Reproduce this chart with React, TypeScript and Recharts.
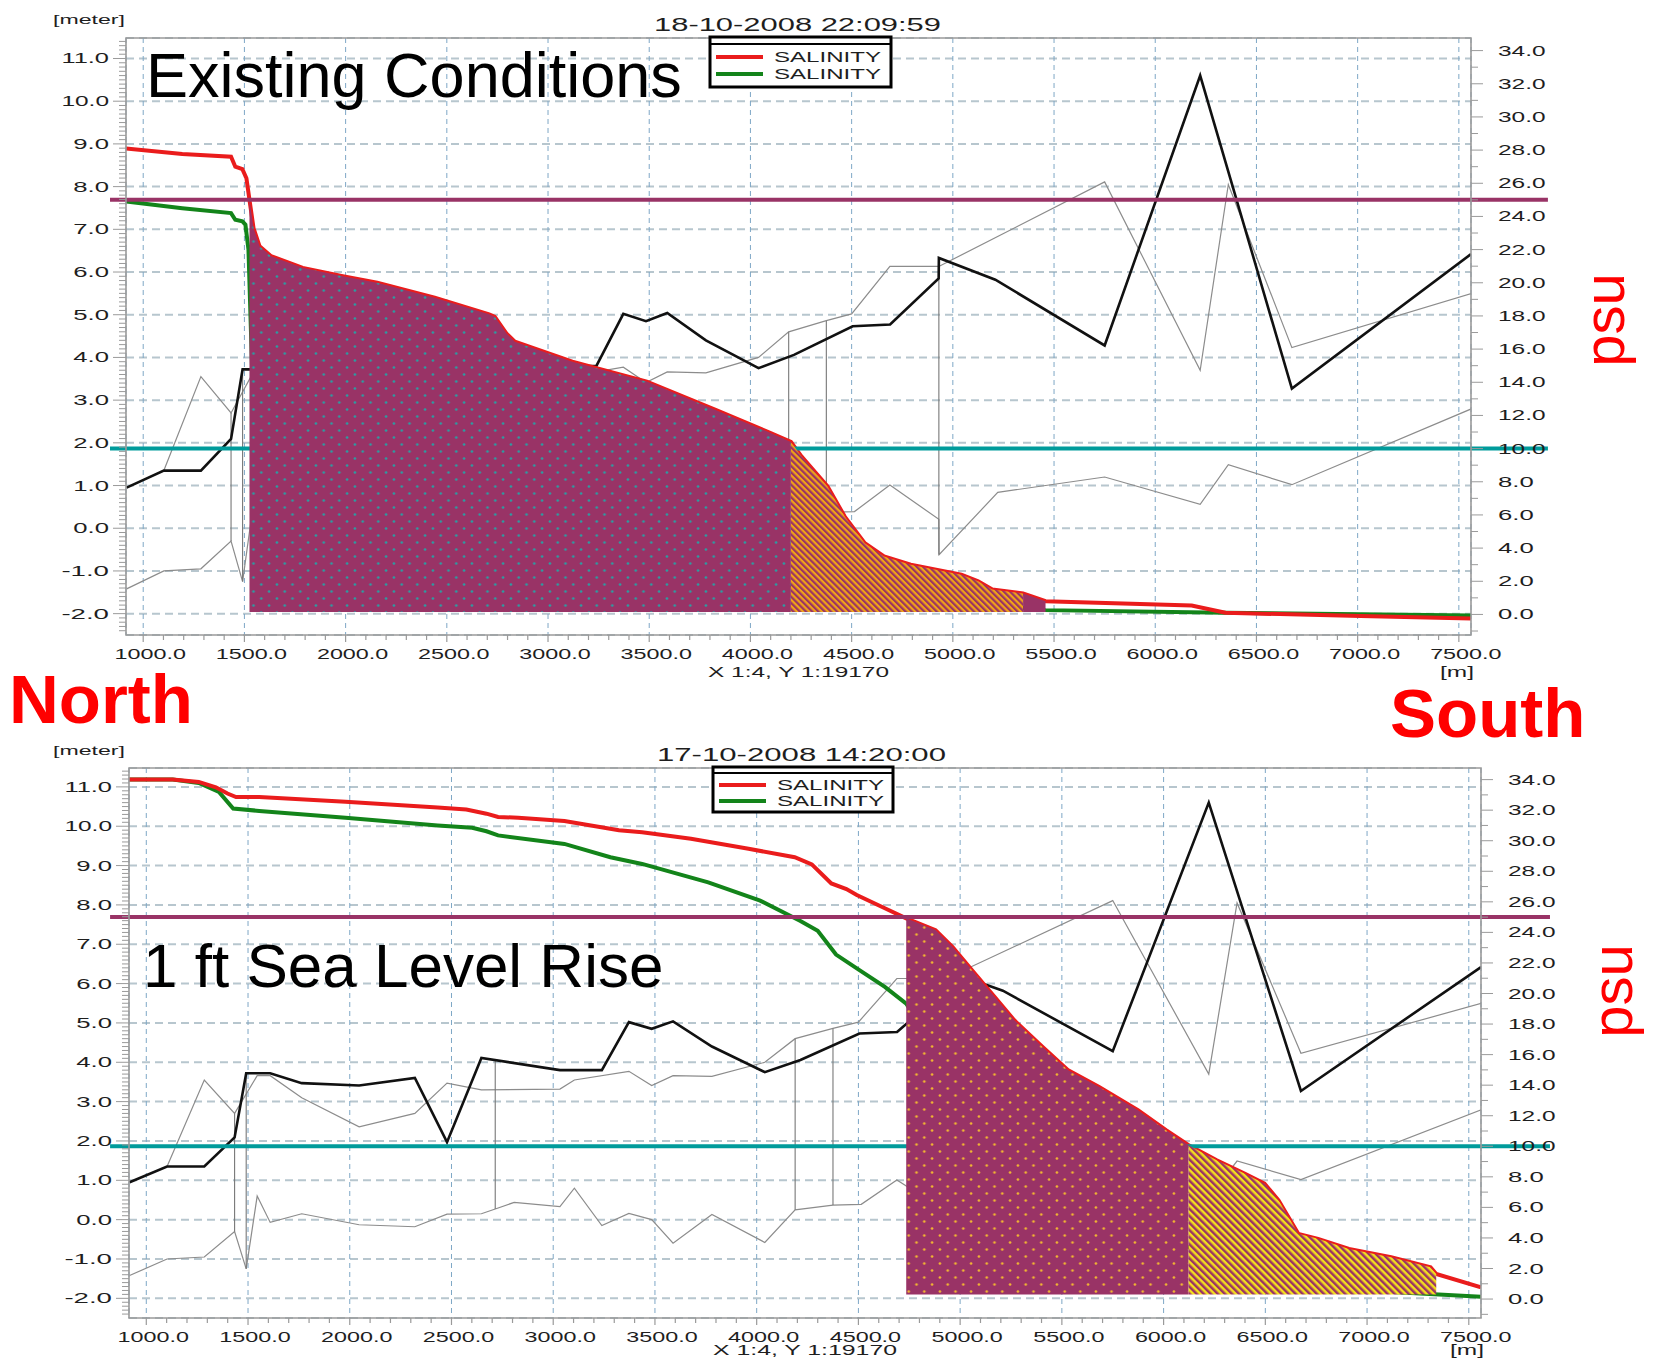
import React from "react";
import {
  Area,
  CartesianGrid,
  ComposedChart,
  Line,
  ReferenceArea,
  ReferenceLine,
  XAxis,
  YAxis,
} from "recharts";

type Pair = [number, number];

// axes (x in metres along the estuary, left axis in metres, right axis in psu)
const X_TICKS = [1000, 1500, 2000, 2500, 3000, 3500, 4000, 4500, 5000, 5500, 6000, 6500, 7000, 7500];
const METER_TICKS = [-2, -1, 0, 1, 2, 3, 4, 5, 6, 7, 8, 9, 10, 11];
const PSU_TICKS = [0, 2, 4, 6, 8, 10, 12, 14, 16, 18, 20, 22, 24, 26, 28, 30, 32, 34];
const X_DOMAIN: [number, number] = [915, 7560];
const METER_DOMAIN: [number, number] = [-2.5, 11.48];
const PSU_DOMAIN: [number, number] = [-1.24, 34.76];

// salinity thresholds (psu)
const PSU_HIGH = 25;
const PSU_LOW = 10;

// bed profile, shared by both panels (metres)
const blackLine: Pair[] = [
  [918, 0.95], [1102, 1.35], [1285, 1.35], [1434, 2.09], [1491, 3.72], [1609, 3.72],
  [1764, 3.47], [2046, 3.41], [2320, 3.6], [2478, 1.97], [2647, 4.11], [3033, 3.8],
  [3239, 3.8], [3372, 5.02], [3484, 4.85], [3589, 5.04], [3780, 4.4], [4040, 3.75],
  [4215, 4.06], [4505, 4.73], [4690, 4.77], [4930, 5.85], [4931, 6.33], [5210, 5.82],
  [5750, 4.28], [6222, 10.6], [6675, 3.27], [7560, 6.42],
];
const grayUpper: Pair[] = [
  [918, 0.95], [1102, 1.35], [1285, 3.55], [1434, 2.7], [1545, 3.66], [1609, 3.66],
  [1764, 3.1], [2046, 2.36], [2320, 2.7], [2478, 3.47], [2647, 3.3], [3033, 3.32],
  [3104, 3.55], [3372, 3.77], [3484, 3.41], [3589, 3.66], [3780, 3.64], [4040, 4.0],
  [4189, 4.6], [4375, 4.86], [4500, 5.02], [4689, 6.13], [4931, 6.13], [5750, 8.11],
  [6222, 3.7], [6361, 8.05], [6675, 4.23], [7564, 5.5],
];
const grayLower: Pair[] = [
  [918, -1.42], [1102, -1.0], [1285, -0.95], [1434, -0.3], [1491, -1.25], [1545, 0.6],
  [1609, -0.07], [1764, 0.15], [2046, -0.13], [2320, -0.18], [2478, 0.14], [2647, 0.15],
  [2715, 0.27], [2808, 0.44], [3033, 0.33], [3104, 0.8], [3239, -0.15], [3372, 0.16],
  [3484, 0.0], [3589, -0.6], [3780, 0.13], [4040, -0.58], [4189, 0.25], [4375, 0.37],
  [4514, 0.39], [4689, 1.01], [4931, 0.21], [4932, -0.62], [5222, 0.84], [5750, 1.2],
  [6222, 0.56], [6361, 1.49], [6675, 1.02], [7564, 2.8],
];
// vertical connectors: [x, top, bottom]
const grayDrops: [number, number, number][] = [
  [1434, 2.7, -0.3], [1491, 3.72, -1.25], [2715, 4.05, 0.27],
  [4189, 4.6, 0.25], [4375, 4.86, 0.37], [4931, 6.33, -0.62],
];

// existing conditions (psu)
const existingRed: Pair[] = [
  [915, 28.1], [1193, 27.77], [1434, 27.6], [1455, 27.0], [1490, 26.85], [1510, 26.3],
  [1525, 25.0], [1545, 23.3], [1575, 22.2], [1632, 21.6], [1788, 20.9], [1986, 20.4],
  [2156, 20.0], [2440, 19.1], [2709, 18.1], [2737, 17.95], [2794, 16.95], [2836, 16.45],
  [3120, 15.24], [3488, 14.04], [3828, 12.33], [4083, 11.03], [4200, 10.4], [4253, 9.52],
  [4381, 7.72], [4466, 5.9], [4565, 4.3], [4660, 3.5], [4792, 3.0], [5042, 2.4],
  [5125, 2.0], [5195, 1.5], [5347, 1.27], [5458, 0.8], [6180, 0.54], [6347, 0.1],
  [7014, -0.1], [7560, -0.24],
];
const existingGreen: Pair[] = [
  [915, 24.9], [1193, 24.5], [1434, 24.2], [1455, 23.8], [1490, 23.7], [1505, 23.5],
  [1520, 22.0], [1540, 14], [1700, 8], [2500, 4], [4000, 2], [5000, 0.8], [5458, 0.26],
  [6347, 0.1], [7560, -0.06],
];

// 1 ft sea level rise (psu)
const riseRed: Pair[] = [
  [915, 34.0], [1130, 34.0], [1258, 33.85], [1342, 33.5], [1399, 33.09], [1441, 32.86],
  [1555, 32.86], [1979, 32.55], [2432, 32.17], [2573, 32.04], [2672, 31.77], [2729, 31.55],
  [2828, 31.51], [3055, 31.29], [3323, 30.68], [3437, 30.56], [3677, 30.13], [3960, 29.47],
  [4187, 28.92], [4271, 28.45], [4367, 27.2], [4441, 26.84], [4492, 26.45], [4630, 25.58],
  [4735, 24.92], [4879, 24.15], [4962, 23.06], [5072, 21.31], [5169, 19.78], [5266, 18.25],
  [5404, 16.52], [5529, 14.99], [5681, 13.89], [5874, 12.36], [6012, 11.05], [6123, 10.07],
  [6261, 9.08], [6400, 8.2], [6496, 7.55], [6565, 6.46], [6662, 4.27], [6759, 3.94],
  [6911, 3.28], [7118, 2.74], [7312, 2.08], [7340, 1.64], [7560, 0.77],
];
const riseGreen: Pair[] = [
  [915, 34.0], [1130, 34.0], [1258, 33.78], [1357, 33.19], [1427, 32.11], [1555, 31.95],
  [1979, 31.51], [2432, 31.0], [2602, 30.85], [2672, 30.62], [2729, 30.35], [3055, 29.79],
  [3281, 28.92], [3437, 28.48], [3762, 27.27], [4017, 26.08], [4215, 24.75], [4300, 24.1],
  [4390, 22.55], [4492, 21.64], [4630, 20.43], [4735, 19.34], [5000, 14], [5500, 8],
  [6000, 4], [6500, 1.5], [7000, 0.6], [7146, 0.44], [7561, 0.15],
];

const RED = "#ea1c1c";
const GREEN = "#13841a";
const PURPLE = "#993366";
const TEAL = "#009b9b";
const AXIS = "#9a9a9a";
const TXT = "#1e1e1e";

const steps = (from: number, to: number, step: number) => {
  const out: number[] = [];
  for (let v = from; v <= to + 1e-9; v += step) out.push(Math.round(v * 10) / 10);
  return out;
};
const X_ALL = steps(1000, 7500, 100);
const METER_ALL = steps(-2.4, 11.4, 0.1);
const PSU_ALL = steps(-1, 34, 1);

const pts = (s: Pair[]) => s.map(([x, v]) => ({ x, v }));
const slice = (s: Pair[], from: number, to: number) =>
  pts(s.filter(([x]) => x >= from && x <= to));

const tickText = (label: string) => ({
  fontFamily: "Liberation Sans, Arial, sans-serif",
  fontSize: 14,
  fill: TXT,
  textLength: label.length * 11.9,
  lengthAdjust: "spacingAndGlyphs" as const,
});

const xTick = (axisY: number) => (p: any) => {
  const v = p.payload.value as number;
  const major = X_TICKS.includes(v);
  const label = v.toFixed(1);
  return (
    <g>
      <line x1={p.x} x2={p.x} y1={axisY} y2={axisY + (major ? 7 : 5)} stroke={AXIS} strokeWidth={1.2} />
      {major && (
        <text x={p.x + 7} y={axisY + 24} textAnchor="middle" {...tickText(label)}>
          {label}
        </text>
      )}
    </g>
  );
};

const meterTick = (axisX: number) => (p: any) => {
  const v = p.payload.value as number;
  const major = Math.abs(v - Math.round(v)) < 1e-6;
  const label = v.toFixed(1);
  return (
    <g>
      <line x1={axisX} x2={axisX - (major ? 13 : 7)} y1={p.y} y2={p.y} stroke={AXIS} strokeWidth={1} />
      {major && (
        <text x={axisX - 17} y={p.y + 5} textAnchor="end" {...tickText(label)}>
          {label}
        </text>
      )}
    </g>
  );
};

const psuTick = (axisX: number) => (p: any) => {
  const v = p.payload.value as number;
  const major = PSU_TICKS.includes(v);
  const label = v.toFixed(1);
  return (
    <g>
      <line x1={axisX} x2={axisX + (major ? 12 : 7)} y1={p.y} y2={p.y} stroke={AXIS} strokeWidth={1} />
      {major && (
        <text x={axisX + 27} y={p.y + 5} textAnchor="start" {...tickText(label)}>
          {label}
        </text>
      )}
    </g>
  );
};

interface PanelProps {
  id: string;
  top: number;
  height: number;
  margin: { top: number; right: number; bottom: number; left: number };
  red: Pair[];
  green: Pair[];
  dotted: [number, number];
  hatched: [number, number];
  solid?: [number, number];
  base: number;
  dotColor: string;
  hatchColor: string;
  hatchSize: number;
  thresholdSpan: [number, number];
}

function Panel(props: PanelProps) {
  const { id, red, green, base, margin } = props;
  const plotLeft = margin.left + 60;
  const plotRight = 1680 - margin.right - 80;
  const plotBottom = props.height - margin.bottom - 40;
  const [sx0, sx1] = props.thresholdSpan;
  const lineCommon = { xAxisId: "x", dot: false, activeDot: false, isAnimationActive: false, zIndex: 400 } as any;
  const areaCommon = { xAxisId: "x", yAxisId: "p", dataKey: "v", baseValue: base, type: "linear", stroke: "none", fillOpacity: 1, dot: false, activeDot: false, isAnimationActive: false, zIndex: 900 } as any;
  return (
    <div style={{ position: "absolute", left: 0, top: props.top }}>
      <ComposedChart width={1680} height={props.height} margin={margin}>
        <defs>
          <pattern id={`dots-${id}`} width={15.6} height={14} patternUnits="userSpaceOnUse">
            <rect width={15.6} height={14} fill={PURPLE} />
            <circle cx={3.9} cy={3.5} r={1.3} fill={props.dotColor} />
            <circle cx={11.7} cy={10.5} r={1.3} fill={props.dotColor} />
          </pattern>
          <pattern
            id={`hatch-${id}`}
            width={props.hatchSize}
            height={props.hatchSize}
            patternUnits="userSpaceOnUse"
            patternTransform="rotate(45)"
          >
            <rect width={props.hatchSize} height={props.hatchSize} fill={PURPLE} />
            <rect width={props.hatchSize} height={props.hatchSize / 2} fill={props.hatchColor} />
          </pattern>
        </defs>
        <XAxis
          xAxisId="x"
          type="number"
          dataKey="x"
          domain={X_DOMAIN}
          allowDataOverflow
          ticks={X_ALL}
          interval={0}
          tick={xTick(plotBottom)}
          tickLine={false}
          tickSize={0}
          tickMargin={0}
          height={40}
          axisLine={false}
        />
        <XAxis xAxisId="g" type="number" dataKey="x" domain={X_DOMAIN} allowDataOverflow ticks={X_TICKS} hide />
        <YAxis
          yAxisId="m"
          type="number"
          domain={METER_DOMAIN}
          allowDataOverflow
          ticks={METER_ALL}
          interval={0}
          tick={meterTick(plotLeft)}
          tickLine={false}
          tickSize={0}
          tickMargin={0}
          width={60}
          axisLine={false}
        />
        <YAxis
          yAxisId="p"
          orientation="right"
          type="number"
          domain={PSU_DOMAIN}
          allowDataOverflow
          ticks={PSU_ALL}
          interval={0}
          tick={psuTick(plotRight)}
          tickLine={false}
          tickSize={0}
          tickMargin={0}
          width={80}
          axisLine={false}
        />
        <YAxis yAxisId="g" type="number" domain={METER_DOMAIN} allowDataOverflow ticks={METER_TICKS} hide />
        <CartesianGrid xAxisId="g" yAxisId="g" vertical={false} stroke="#b7c6ce" strokeWidth={2} strokeDasharray="8 5" />
        <CartesianGrid xAxisId="g" yAxisId="g" horizontal={false} stroke="#7ea7c6" strokeWidth={1} strokeDasharray="5 4" />

        <Line {...lineCommon} yAxisId="m" data={pts(grayUpper)} dataKey="v" stroke="#8c8c8c" strokeWidth={1.2} />
        <Line {...lineCommon} yAxisId="m" data={pts(grayLower)} dataKey="v" stroke="#8c8c8c" strokeWidth={1.2} />
        {grayDrops.map(([x, hi, lo]) => (
          <Line
            key={`drop-${x}`}
            {...lineCommon}
            yAxisId="m"
            data={[{ x, v: hi }, { x, v: lo }]}
            dataKey="v"
            stroke="#777"
            strokeWidth={1.1}
          />
        ))}
        <Line {...lineCommon} yAxisId="m" data={pts(blackLine)} dataKey="v" stroke="#111" strokeWidth={2.6} />
        <Line {...lineCommon} yAxisId="p" data={pts(green)} dataKey="v" stroke={GREEN} strokeWidth={4} />
        <Line {...lineCommon} yAxisId="p" data={pts(red)} dataKey="v" stroke={RED} strokeWidth={4} />

        <ReferenceLine
          xAxisId="x"
          yAxisId="p"
          segment={[{ x: sx0, y: PSU_HIGH }, { x: sx1, y: PSU_HIGH }]}
          ifOverflow="visible"
          stroke={PURPLE}
          strokeWidth={4}
          {...({ zIndex: 800 } as any)}
        />
        <ReferenceLine
          xAxisId="x"
          yAxisId="p"
          segment={[{ x: sx0, y: PSU_LOW }, { x: sx1, y: PSU_LOW }]}
          ifOverflow="visible"
          stroke={TEAL}
          strokeWidth={4}
          {...({ zIndex: 800 } as any)}
        />

        <Area {...areaCommon} data={slice(red, props.dotted[0], props.dotted[1])} fill={`url(#dots-${id})`} />
        <Area {...areaCommon} data={slice(red, props.hatched[0], props.hatched[1])} fill={`url(#hatch-${id})`} />
        {props.solid && <Area {...areaCommon} data={slice(red, props.solid[0], props.solid[1])} fill={PURPLE} />}

        <ReferenceArea
          xAxisId="x"
          yAxisId="m"
          x1={X_DOMAIN[0]}
          x2={X_DOMAIN[1]}
          y1={METER_DOMAIN[0]}
          y2={METER_DOMAIN[1]}
          fill="none"
          fillOpacity={0}
          stroke={AXIS}
          strokeWidth={1.6}
          {...({ zIndex: 950 } as any)}
        />
      </ComposedChart>
    </div>
  );
}

const sans = "Liberation Sans, Arial, sans-serif";

function LegendBox({ x, y, w, h, sep, redY, greenY }: { x: number; y: number; w: number; h: number; sep: number; redY: number; greenY: number }) {
  const label = (ty: number) => (
    <text x={x + 64} y={ty + 5} fontFamily={sans} fontSize={15} fill={TXT} textLength={107} lengthAdjust="spacingAndGlyphs">
      SALINITY
    </text>
  );
  return (
    <g>
      <rect x={x} y={y} width={w} height={h} fill="#fff" stroke="#000" strokeWidth={3} />
      <line x1={x} x2={x + w} y1={sep} y2={sep} stroke="#000" strokeWidth={2} />
      <line x1={x + 6} x2={x + 53} y1={redY} y2={redY} stroke={RED} strokeWidth={4} />
      {label(redY)}
      <line x1={x + 6} x2={x + 53} y1={greenY} y2={greenY} stroke={GREEN} strokeWidth={4} />
      {label(greenY)}
    </g>
  );
}

function Psu({ cx, cy }: { cx: number; cy: number }) {
  return (
    <text transform={`translate(${cx},${cy}) rotate(-90)`} y={9} textAnchor="middle" fontFamily={sans} fontSize={58} fill="#ff0000">
      psu
    </text>
  );
}

export default function App() {
  return (
    <div style={{ position: "absolute", left: 0, top: 0, width: 1680, height: 1359, background: "#fff", overflow: "hidden" }}>
      <Panel
        id="now"
        top={0}
        height={700}
        margin={{ top: 38, right: 129, bottom: 25, left: 66 }}
        red={existingRed}
        green={existingGreen}
        dotted={[1525, 4200]}
        hatched={[4200, 5347]}
        solid={[5347, 5458]}
        base={0.15}
        dotColor="#2a9ea2"
        hatchColor="#f0a516"
        hatchSize={4.4}
        thresholdSpan={[836, 7940]}
      />
      <Panel
        id="slr"
        top={700}
        height={659}
        margin={{ top: 68, right: 119, bottom: 1, left: 69 }}
        red={riseRed}
        green={riseGreen}
        dotted={[4735, 6123]}
        hatched={[6123, 7340]}
        base={0.3}
        dotColor="#f2b531"
        hatchColor="#f3e11c"
        hatchSize={5}
        thresholdSpan={[822, 7899]}
      />
      <svg width={1680} height={1359} style={{ position: "absolute", left: 0, top: 0, pointerEvents: "none" }}>
        <text x={53} y={24} fontFamily={sans} fontSize={13} fill={TXT} textLength={72} lengthAdjust="spacingAndGlyphs">[meter]</text>
        <text x={654} y={31} fontFamily={sans} fontSize={18} fill={TXT} textLength={287} lengthAdjust="spacingAndGlyphs">18-10-2008 22:09:59</text>
        <text x={146} y={97} fontFamily={sans} fontSize={63} fill="#000">Existing Conditions</text>
        <LegendBox x={710} y={37} w={181} h={50} sep={44} redY={57} greenY={74} />
        <text x={708} y={677} fontFamily={sans} fontSize={14} fill={TXT} textLength={181} lengthAdjust="spacingAndGlyphs">X 1:4, Y 1:19170</text>
        <text x={1440} y={677} fontFamily={sans} fontSize={14} fill={TXT} textLength={34} lengthAdjust="spacingAndGlyphs">[m]</text>
        <Psu cx={1615} cy={320} />

        <text x={9} y={723} fontFamily={sans} fontSize={69} fontWeight="bold" fill="#ff0000">North</text>
        <text x={1390} y={737} fontFamily={sans} fontSize={69} fontWeight="bold" fill="#ff0000">South</text>

        <text x={53} y={755} fontFamily={sans} fontSize={13} fill={TXT} textLength={72} lengthAdjust="spacingAndGlyphs">[meter]</text>
        <text x={657} y={761} fontFamily={sans} fontSize={18} fill={TXT} textLength={289} lengthAdjust="spacingAndGlyphs">17-10-2008 14:20:00</text>
        <text x={143} y={987} fontFamily={sans} fontSize={62} fill="#000">1 ft Sea Level Rise</text>
        <LegendBox x={713} y={767} w={180} h={45} sep={773} redY={785} greenY={801} />
        <text x={713} y={1355} fontFamily={sans} fontSize={14} fill={TXT} textLength={184} lengthAdjust="spacingAndGlyphs">X 1:4, Y 1:19170</text>
        <text x={1450} y={1355} fontFamily={sans} fontSize={14} fill={TXT} textLength={34} lengthAdjust="spacingAndGlyphs">[m]</text>
        <Psu cx={1623} cy={991} />
      </svg>
    </div>
  );
}
